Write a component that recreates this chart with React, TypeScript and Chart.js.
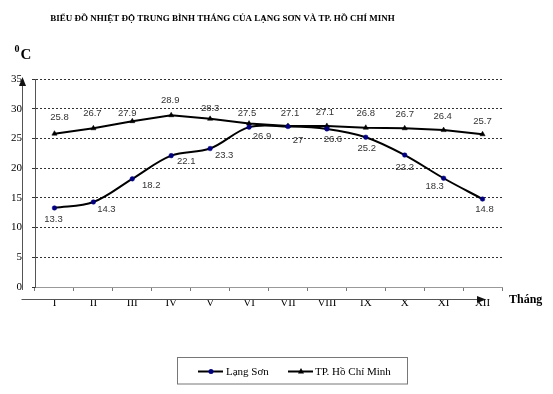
import React, { useEffect, useRef } from "react";
import { Chart, registerables } from "chart.js";

Chart.register(...registerables);

const months = ["I", "II", "III", "IV", "V", "VI", "VII", "VIII", "IX", "X", "XI", "XII"];
const langSon = [13.3, 14.3, 18.2, 22.1, 23.3, 26.9, 27, 26.6, 25.2, 22.2, 18.3, 14.8];
const hoChiMinh = [25.8, 26.7, 27.9, 28.9, 28.3, 27.5, 27.1, 27.1, 26.8, 26.7, 26.4, 25.7];
const langSonLabel = ["13.3", "14.3", "18.2", "22.1", "23.3", "26.9", "27", "26.6", "25.2", "22.2", "18.3", "14.8"];
const hcmLabel = ["25.8", "26.7", "27.9", "28.9", "28.3", "27.5", "27.1", "27.1", "26.8", "26.7", "26.4", "25.7"];
const yTicks = [0, 5, 10, 15, 20, 25, 30, 35];

const TITLE = "BIỂU ĐỒ NHIỆT ĐỘ TRUNG BÌNH THÁNG CỦA LẠNG SƠN VÀ TP. HỒ CHÍ MINH";
const SERIES_NAMES = ["Lạng Sơn", "TP. Hồ Chí Minh"];

// label offsets relative to each point (style only)
const lsOffsets: [number, number][] = [
  [-1, 11], [13, 7.5], [19, 6.5], [15, 5.5], [14, 7], [13, 9],
  [10, 13.5], [6, 10.5], [1, 11.5], [0, 12], [-9, 8], [2, 10],
];
const hcmOffsets: [number, number][] = [
  [5, -16], [-1, -15], [-5, -8], [-1, -14.5], [0, -10.5], [-2, -10],
  [2, -13], [-2, -14], [0, -14], [0, -13.5], [-1, -13.5], [0, -12.5],
];

const SERIF = '"Liberation Serif", "Times New Roman", serif';
const SANS = '"Liberation Sans", Arial, sans-serif';

const overlay = {
  id: "overlay",
  beforeDraw(chart: any) {
    const ctx = chart.ctx;
    ctx.save();
    ctx.fillStyle = "#ffffff";
    ctx.fillRect(0, 0, chart.width, chart.height);
    ctx.restore();
  },
  afterDraw(chart: any) {
    const ctx = chart.ctx as CanvasRenderingContext2D;
    ctx.save();

    // title
    ctx.fillStyle = "#000";
    ctx.font = `bold 9px ${SERIF}`;
    ctx.textAlign = "center";
    ctx.textBaseline = "alphabetic";
    ctx.fillText(TITLE, 222.5, 21, 349);

    // unit label 0C
    ctx.textAlign = "left";
    ctx.font = `bold 10px ${SERIF}`;
    ctx.fillText("0", 14.5, 52);
    ctx.font = `bold 15px ${SERIF}`;
    ctx.fillText("C", 20.5, 59);

    // axis name
    ctx.font = `bold 12px ${SERIF}`;
    ctx.fillText("Tháng", 509, 303);

    // arrow axes
    ctx.strokeStyle = "#555";
    ctx.fillStyle = "#111";
    ctx.lineWidth = 1;
    ctx.beginPath();
    ctx.moveTo(22.5, 290);
    ctx.lineTo(22.5, 84);
    ctx.stroke();
    ctx.beginPath();
    ctx.moveTo(22.5, 77);
    ctx.lineTo(19, 86);
    ctx.lineTo(26, 86);
    ctx.closePath();
    ctx.fill();

    ctx.beginPath();
    ctx.moveTo(21.5, 299.5);
    ctx.lineTo(479, 299.5);
    ctx.stroke();
    ctx.beginPath();
    ctx.moveTo(486, 299.5);
    ctx.lineTo(477, 296);
    ctx.lineTo(477, 303);
    ctx.closePath();
    ctx.fill();

    // data labels
    ctx.font = `9.5px ${SANS}`;
    ctx.fillStyle = "#333";
    ctx.textAlign = "center";
    ctx.textBaseline = "middle";
    const m0 = chart.getDatasetMeta(0).data;
    const m1 = chart.getDatasetMeta(1).data;
    m0.forEach((p: any, i: number) => {
      ctx.fillText(langSonLabel[i], p.x + lsOffsets[i][0], p.y + lsOffsets[i][1]);
    });
    m1.forEach((p: any, i: number) => {
      ctx.fillText(hcmLabel[i], p.x + hcmOffsets[i][0], p.y + hcmOffsets[i][1]);
    });

    // legend
    ctx.strokeStyle = "#777";
    ctx.lineWidth = 1;
    ctx.strokeRect(177.5, 357.5, 230, 26.5);
    const ly = 371.5;
    ctx.strokeStyle = "#000";
    ctx.lineWidth = 2;
    ctx.beginPath();
    ctx.moveTo(198, ly);
    ctx.lineTo(223, ly);
    ctx.stroke();
    ctx.fillStyle = "#000080";
    ctx.beginPath();
    ctx.arc(211, ly, 2.5, 0, Math.PI * 2);
    ctx.fill();
    ctx.beginPath();
    ctx.moveTo(288, ly);
    ctx.lineTo(313, ly);
    ctx.stroke();
    ctx.fillStyle = "#000";
    ctx.beginPath();
    ctx.moveTo(301, ly - 3.5);
    ctx.lineTo(304, ly + 2);
    ctx.lineTo(298, ly + 2);
    ctx.closePath();
    ctx.fill();
    ctx.font = `11px ${SERIF}`;
    ctx.textAlign = "left";
    ctx.textBaseline = "middle";
    ctx.fillText(SERIES_NAMES[0], 226, ly + 0.5);
    ctx.fillText(SERIES_NAMES[1], 315, ly + 0.5);

    ctx.restore();
  },
};

export default function App() {
  const ref = useRef<HTMLCanvasElement | null>(null);
  useEffect(() => {
    if (!ref.current) return;
    const chart = new Chart(ref.current, {
      type: "line",
      data: {
        labels: months,
        datasets: [
          {
            label: SERIES_NAMES[0],
            data: langSon,
            borderColor: "#000",
            borderWidth: 2,
            tension: 0.35,
            pointStyle: "circle",
            pointRadius: 2.3,
            pointBackgroundColor: "#000080",
            pointBorderColor: "#000080",
            pointBorderWidth: 0.5,
          },
          {
            label: SERIES_NAMES[1],
            data: hoChiMinh,
            borderColor: "#000",
            borderWidth: 2,
            tension: 0,
            pointStyle: "triangle",
            pointRadius: 3,
            pointBackgroundColor: "#000",
            pointBorderColor: "#000",
            pointBorderWidth: 0.5,
          },
        ],
      },
      options: {
        responsive: false,
        animation: false,
        events: [],
        layout: { padding: { left: 0, top: 79, right: 51, bottom: 0 } },
        plugins: {
          legend: { display: false },
          title: { display: false },
          tooltip: { enabled: false },
        },
        scales: {
          x: {
            type: "category",
            offset: true,
            grid: {
              offset: true,
              drawOnChartArea: false,
              drawTicks: true,
              tickLength: 4,
              color: "#777",
            },
            border: { display: true, color: "#999", width: 1 },
            ticks: {
              color: "#000",
              padding: 6,
              maxRotation: 0,
              autoSkip: false,
              font: { family: SERIF, size: 11 },
            },
            afterFit: (s: any) => {
              s.height = 107;
            },
          },
          y: {
            min: 0,
            max: 35,
            afterBuildTicks: (s: any) => {
              s.ticks = yTicks.map((v) => ({ value: v }));
            },
            grid: {
              color: "#333",
              lineWidth: 1,
              drawTicks: true,
              tickLength: 3,
            },
            border: { display: true, color: "#555", width: 1, dash: [2, 2] },
            ticks: {
              color: "#000",
              padding: 10,
              font: { family: SERIF, size: 11 },
            },
            afterFit: (s: any) => {
              s.width = 35;
            },
          },
        },
      },
      plugins: [overlay],
    });
    return () => chart.destroy();
  }, []);
  return (
    <div style={{ position: "absolute", left: 0, top: 0, width: 553, height: 394 }}>
      <canvas ref={ref} width={553} height={394} style={{ display: "block" }} />
    </div>
  );
}
